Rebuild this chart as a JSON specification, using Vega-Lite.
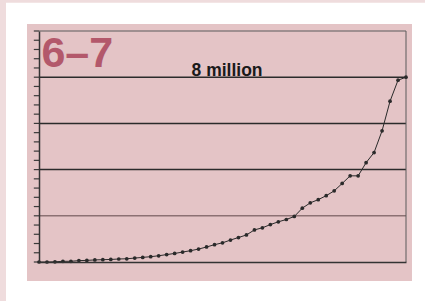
{
  "$schema": "https://vega.github.io/schema/vega-lite/v6.json",
  "width": 367,
  "height": 231,
  "autosize": {"type": "none"},
  "padding": {"left": 39, "top": 31, "right": 19, "bottom": 39},
  "background": "#ffffff",
  "config": {
    "view": {"stroke": null},
    "font": "Liberation Sans",
    "axis": {"labels": false, "title": null, "grid": false, "zindex": 1, "domainColor": "#333333", "domainWidth": 1.5, "ticks": false}
  },
  "datasets": {
    "series": [
      {"i": 0, "v": 0}, {"i": 1, "v": 0}, {"i": 2, "v": 10000}, {"i": 3, "v": 30000},
      {"i": 4, "v": 30000}, {"i": 5, "v": 60000}, {"i": 6, "v": 70000}, {"i": 7, "v": 90000},
      {"i": 8, "v": 100000}, {"i": 9, "v": 110000}, {"i": 10, "v": 130000}, {"i": 11, "v": 140000},
      {"i": 12, "v": 170000}, {"i": 13, "v": 200000}, {"i": 14, "v": 230000}, {"i": 15, "v": 270000},
      {"i": 16, "v": 320000}, {"i": 17, "v": 370000}, {"i": 18, "v": 430000}, {"i": 19, "v": 490000},
      {"i": 20, "v": 560000}, {"i": 21, "v": 650000}, {"i": 22, "v": 750000}, {"i": 23, "v": 830000},
      {"i": 24, "v": 950000}, {"i": 25, "v": 1060000}, {"i": 26, "v": 1170000}, {"i": 27, "v": 1390000},
      {"i": 28, "v": 1480000}, {"i": 29, "v": 1620000}, {"i": 30, "v": 1740000}, {"i": 31, "v": 1840000},
      {"i": 32, "v": 1970000}, {"i": 33, "v": 2330000}, {"i": 34, "v": 2560000}, {"i": 35, "v": 2700000},
      {"i": 36, "v": 2870000}, {"i": 37, "v": 3080000}, {"i": 38, "v": 3400000}, {"i": 39, "v": 3730000},
      {"i": 40, "v": 3730000}, {"i": 41, "v": 4300000}, {"i": 42, "v": 4740000}, {"i": 43, "v": 5680000},
      {"i": 44, "v": 6960000}, {"i": 45, "v": 7870000}, {"i": 46, "v": 8000000}
    ],
    "ticks": [
      {"t": 0}, {"t": 400000}, {"t": 800000}, {"t": 1200000}, {"t": 1600000}, {"t": 2000000},
      {"t": 2400000}, {"t": 2800000}, {"t": 3200000}, {"t": 3600000}, {"t": 4000000}, {"t": 4400000},
      {"t": 4800000}, {"t": 5200000}, {"t": 5600000}, {"t": 6000000}, {"t": 6400000}, {"t": 6800000},
      {"t": 7200000}, {"t": 7600000}, {"t": 8000000}, {"t": 8400000}, {"t": 8800000}, {"t": 9200000},
      {"t": 9600000}, {"t": 10000000}
    ]
  },
  "layer": [
    {
      "data": {"name": "series"},
      "mark": {"type": "line", "opacity": 0},
      "encoding": {
        "x": {
          "field": "i", "type": "quantitative",
          "scale": {"domain": [0, 46], "nice": false, "zero": false},
          "axis": {"orient": "bottom", "ticks": false, "labels": false, "title": null, "grid": false, "zindex": 1}
        },
        "y": {
          "field": "v", "type": "quantitative",
          "scale": {"domain": [0, 10000000], "nice": false},
          "axis": {"orient": "left", "ticks": false, "labels": false, "title": null, "grid": false, "zindex": 1}
        }
      }
    },
    {
      "data": {"values": [{}]},
      "mark": {"type": "rect", "clip": false, "color": "#efdcdd"},
      "encoding": {
        "x": {"datum": -4.888, "type": "quantitative"},
        "x2": {"datum": -4.136},
        "y": {"datum": 11342000, "type": "quantitative"},
        "y2": {"datum": -1688000}
      }
    },
    {
      "data": {"values": [{}]},
      "mark": {"type": "rect", "clip": false, "color": "#efdcdd"},
      "encoding": {
        "x": {"datum": -4.888, "type": "quantitative"},
        "x2": {"datum": 48.38},
        "y": {"datum": 11342000, "type": "quantitative"},
        "y2": {"datum": 11225000}
      }
    },
    {
      "data": {"values": [{}]},
      "mark": {"type": "rect", "clip": false, "color": "#e4c4c6"},
      "encoding": {
        "x": {"datum": -1.504, "type": "quantitative"},
        "x2": {"datum": 46.75},
        "y": {"datum": 10303000, "type": "quantitative"},
        "y2": {"datum": -822500}
      }
    },
    {
      "data": {"name": "ticks"},
      "mark": {"type": "rule", "color": "#3a3a3a", "strokeWidth": 1.2, "clip": false},
      "encoding": {
        "x": {"datum": -0.65, "type": "quantitative"},
        "x2": {"datum": 0},
        "y": {"field": "t", "type": "quantitative"}
      }
    },
    {
      "data": {"values": [{}]},
      "mark": {"type": "rule", "color": "#8c7173", "strokeWidth": 1.5},
      "encoding": {
        "y": {"datum": 2000000, "type": "quantitative"}
      }
    },
    {
      "data": {"values": [{"g": 4000000}, {"g": 6000000}, {"g": 8000000}]},
      "mark": {"type": "rule", "color": "#2b2b2b", "strokeWidth": 1.5},
      "encoding": {
        "y": {"field": "g", "type": "quantitative"}
      }
    },
    {
      "data": {"values": [{}]},
      "mark": {"type": "rule", "color": "#5a5a5a", "strokeWidth": 1},
      "encoding": {
        "y": {"datum": 10000000, "type": "quantitative"}
      }
    },
    {
      "data": {"values": [{}]},
      "mark": {"type": "rule", "color": "#5a5a5a", "strokeWidth": 1},
      "encoding": {
        "x": {"datum": 46, "type": "quantitative"}
      }
    },
    {
      "data": {"name": "series"},
      "mark": {"type": "line", "color": "#2a2a2a", "strokeWidth": 1, "clip": false},
      "encoding": {
        "x": {"field": "i", "type": "quantitative"},
        "y": {"field": "v", "type": "quantitative"}
      }
    },
    {
      "data": {"name": "series"},
      "mark": {"type": "point", "filled": true, "shape": "circle", "size": 14, "color": "#2a2a2a", "opacity": 1, "clip": false},
      "encoding": {
        "x": {"field": "i", "type": "quantitative"},
        "y": {"field": "v", "type": "quantitative"}
      }
    },
    {
      "data": {"values": [{"label": "6–7"}]},
      "mark": {"type": "text", "align": "left", "baseline": "alphabetic", "font": "Liberation Sans", "fontWeight": "bold", "fontSize": 43, "color": "#b3586b", "clip": false},
      "encoding": {
        "x": {"datum": 0.3, "type": "quantitative"},
        "y": {"datum": 8420000, "type": "quantitative"},
        "text": {"field": "label"}
      }
    },
    {
      "data": {"values": [{"label": "8 million"}]},
      "mark": {"type": "text", "align": "center", "baseline": "alphabetic", "font": "Liberation Sans", "fontWeight": "bold", "fontSize": 17.5, "color": "#1a1a1a", "clip": false},
      "encoding": {
        "x": {"datum": 23.57, "type": "quantitative"},
        "y": {"datum": 8050000, "type": "quantitative"},
        "text": {"field": "label"}
      }
    }
  ]
}
